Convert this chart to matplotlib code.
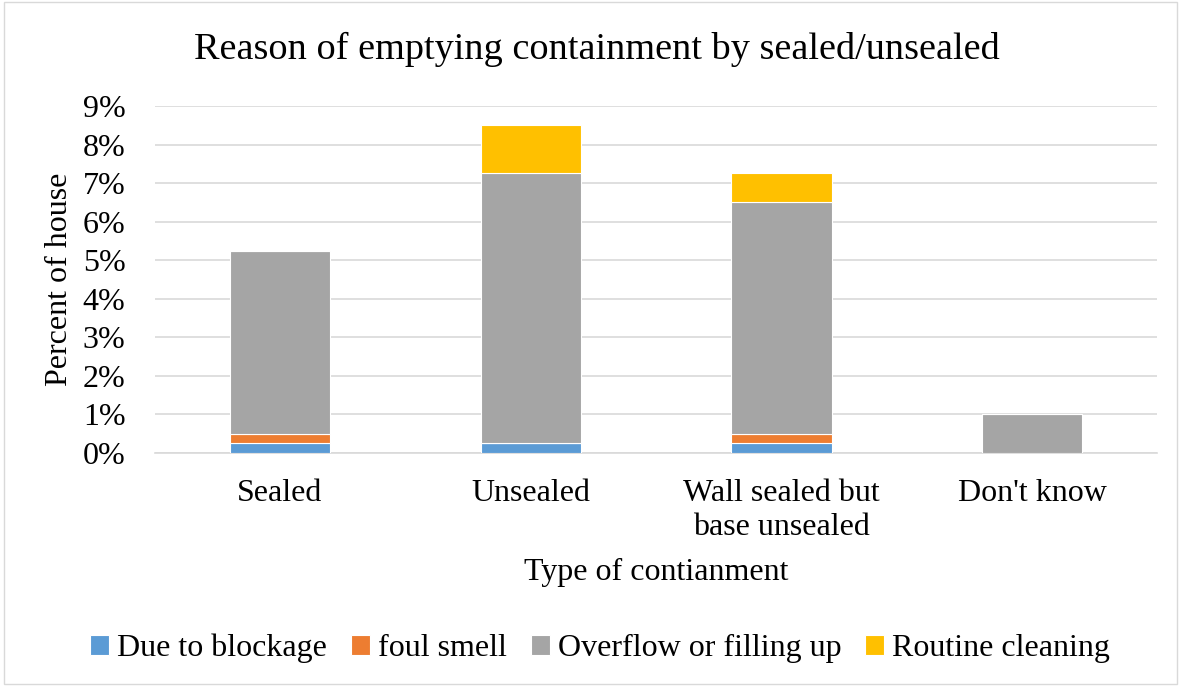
import matplotlib
matplotlib.use("Agg")
import matplotlib.pyplot as plt
import numpy as np
from matplotlib.ticker import PercentFormatter

categories = ["Sealed", "Unsealed", "Wall sealed but\nbase unsealed", "Don't know"]
blockage = [0.25, 0.25, 0.25, 0.0]
foul_smell = [0.25, 0.0, 0.25, 0.0]
overflow = [4.75, 7.0, 6.0, 1.0]
routine = [0.0, 1.25, 0.75, 0.0]
series_names = ["Due to blockage", "foul smell", "Overflow or filling up", "Routine cleaning"]
colors = ["#5B9BD5", "#ED7D31", "#A5A5A5", "#FFC000"]

plt.rcParams['font.family'] = ['Liberation Serif', 'DejaVu Serif']

fig = plt.figure(figsize=(11.81, 6.86), dpi=100)
ax = fig.add_axes([0.131, 0.3397, 0.849, 0.5058])

x = np.arange(len(categories))
bottom = np.zeros(len(categories))
for vals, name, c in zip([blockage, foul_smell, overflow, routine], series_names, colors):
    v = np.array(vals) / 100.0
    ax.bar(x, v, 0.4, bottom=bottom, color=c, label=name, edgecolor='white', linewidth=0.8, zorder=3)
    bottom += v

ax.set_xlim(-0.5, len(categories) - 0.5)
ax.set_ylim(0, 0.09)
ax.set_yticks(np.arange(0, 0.0901, 0.01))
ax.yaxis.set_major_formatter(PercentFormatter(1.0, decimals=0))
ax.grid(axis='y', color='#D9D9D9', linewidth=1.2, zorder=0)
for s in ['top', 'right', 'left']:
    ax.spines[s].set_visible(False)
ax.spines['bottom'].set_color('#D9D9D9')
ax.spines['bottom'].set_linewidth(1.2)
ax.tick_params(axis='both', length=0, labelsize=23, colors='black')
ax.tick_params(axis='y', pad=21)
ax.set_xticks(x)
ax.set_xticklabels(categories, fontsize=23, linespacing=1.2)
ax.tick_params(axis='x', pad=19)

ax.set_ylabel("Percent of house", fontsize=23, labelpad=6)
ax.set_xlabel("Type of contianment", fontsize=23, labelpad=12)
fig.text(0.505, 0.928, "Reason of emptying containment by sealed/unsealed", fontsize=27.5, ha='center', va='center')

fig.legend(loc='center', bbox_to_anchor=(0.508, 0.055), ncol=4, frameon=False, fontsize=23,
           handlelength=0.6, handleheight=0.6, handletextpad=0.25, columnspacing=0.75)

border = plt.Rectangle((0.003, 0.003), 0.994, 0.994, transform=fig.transFigure, fill=False,
                       edgecolor='#D9D9D9', linewidth=1.0)
fig.patches.append(border)

fig.savefig("out.png", dpi=100)
